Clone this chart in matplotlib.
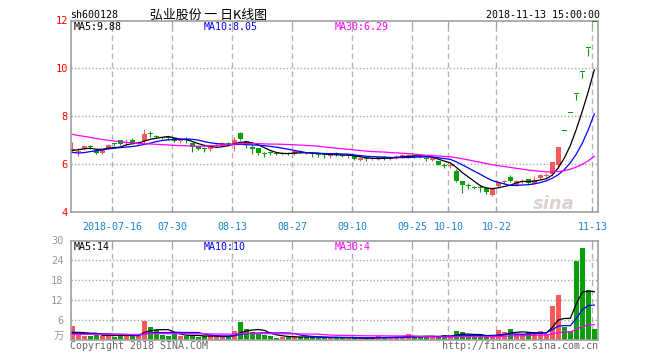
import matplotlib
matplotlib.use("Agg")
import matplotlib.pyplot as plt
import numpy as np
import pandas as pd

# daily candles, 2018-07-05 .. 2018-11-13 (88 trading days)
opens = [6.60, 6.52, 6.62, 6.74, 6.60, 6.48, 6.68, 6.88, 7.00, 6.88,
         7.02, 6.84, 6.98, 7.28, 7.20, 7.12, 7.10, 7.08, 6.96, 7.02,
         6.90, 6.76, 6.64, 6.62, 6.76, 6.78, 6.88, 6.86, 7.32, 6.98,
         6.70, 6.68, 6.44, 6.50, 6.46, 6.42, 6.46, 6.43, 6.54, 6.50,
         6.45, 6.40, 6.40, 6.36, 6.44, 6.38, 6.34, 6.38, 6.20, 6.24,
         6.22, 6.22, 6.30, 6.24, 6.30, 6.32, 6.30, 6.38, 6.34, 6.24,
         6.20, 6.12, 5.96, 5.92, 5.72, 5.30, 5.10, 5.06, 5.04, 5.02,
         4.72, 5.09, 5.25, 5.46, 5.14, 5.28, 5.38, 5.20, 5.44, 5.53,
         5.60, 5.98, 7.40, 8.14, 8.95, 9.85, 10.84, 11.92]
highs = [6.94, 6.67, 6.77, 6.82, 6.62, 6.66, 6.85, 6.90, 7.01, 7.04,
         7.08, 6.96, 7.47, 7.39, 7.22, 7.16, 7.15, 7.10, 7.08, 7.15,
         6.95, 6.78, 6.74, 6.78, 6.85, 6.92, 6.95, 7.15, 7.37, 7.00,
         6.84, 6.70, 6.52, 6.56, 6.50, 6.50, 6.50, 6.56, 6.60, 6.52,
         6.50, 6.48, 6.46, 6.46, 6.50, 6.42, 6.44, 6.40, 6.30, 6.30,
         6.30, 6.34, 6.36, 6.32, 6.38, 6.44, 6.42, 6.42, 6.40, 6.30,
         6.28, 6.14, 6.04, 6.00, 5.80, 5.32, 5.22, 5.10, 5.12, 5.04,
         5.00, 5.30, 5.36, 5.55, 5.34, 5.38, 5.40, 5.50, 5.58, 5.65,
         6.10, 6.74, 7.40, 8.14, 8.95, 9.85, 10.84, 11.92]
lows = [6.55, 6.36, 6.60, 6.62, 6.42, 6.45, 6.65, 6.75, 6.80, 6.82,
        6.85, 6.80, 6.88, 7.14, 7.10, 7.06, 7.02, 6.92, 6.90, 6.90,
        6.52, 6.58, 6.52, 6.56, 6.72, 6.76, 6.76, 6.57, 7.00, 6.70,
        6.45, 6.40, 6.32, 6.38, 6.38, 6.38, 6.40, 6.40, 6.46, 6.42,
        6.32, 6.30, 6.26, 6.28, 6.34, 6.30, 6.28, 6.18, 6.12, 6.14,
        6.18, 6.20, 6.18, 6.18, 6.24, 6.28, 6.26, 6.28, 6.28, 6.16,
        6.16, 5.96, 5.86, 5.84, 5.25, 4.82, 4.97, 4.96, 4.86, 4.76,
        4.68, 5.04, 5.18, 5.28, 5.10, 5.20, 5.18, 5.16, 5.40, 5.47,
        5.56, 5.84, 7.40, 8.14, 8.68, 9.60, 10.50, 11.92]
closes = [6.63, 6.56, 6.75, 6.72, 6.48, 6.63, 6.80, 6.85, 6.86, 6.92,
          6.88, 6.92, 7.26, 7.25, 7.12, 7.10, 7.08, 6.96, 7.00, 7.00,
          6.74, 6.62, 6.62, 6.76, 6.80, 6.87, 6.86, 7.02, 7.06, 6.86,
          6.66, 6.48, 6.42, 6.48, 6.44, 6.46, 6.44, 6.54, 6.52, 6.46,
          6.43, 6.38, 6.38, 6.40, 6.42, 6.36, 6.37, 6.22, 6.22, 6.22,
          6.24, 6.30, 6.28, 6.26, 6.32, 6.40, 6.38, 6.36, 6.32, 6.22,
          6.22, 5.98, 5.94, 5.94, 5.30, 5.12, 5.08, 5.02, 5.02, 4.84,
          4.97, 5.27, 5.28, 5.30, 5.30, 5.30, 5.22, 5.36, 5.55, 5.56,
          6.08, 6.73, 7.40, 8.14, 8.95, 9.85, 10.84, 11.92]
# volume, 万手
volumes = [4.4, 1.8, 1.3, 1.3, 1.8, 1.4, 1.6, 1.1, 1.6, 1.6,
           1.4, 1.3, 5.9, 4.1, 3.1, 1.6, 1.3, 2.1, 1.3, 1.4,
           1.4, 1.1, 1.3, 1.3, 1.0, 1.0, 1.1, 2.8, 5.5, 3.4,
           2.6, 1.9, 1.6, 1.4, 0.8, 1.1, 0.9, 1.1, 1.1, 0.9,
           0.9, 0.8, 0.8, 0.8, 0.9, 0.7, 0.8, 0.6, 0.6, 0.6,
           0.8, 1.3, 0.9, 0.8, 1.0, 1.0, 1.9, 1.0, 1.0, 1.3,
           1.0, 1.4, 1.6, 0.9, 2.8, 2.5, 1.6, 0.9, 0.9, 0.9,
           1.1, 3.1, 2.5, 3.3, 1.9, 1.9, 2.4, 1.9, 2.8, 2.0,
           10.3, 13.6, 4.1, 2.9, 23.9, 27.8, 15.1, 3.4]

# sessions before the window (estimated from where the MA lines start)
prior_closes = [7.95, 7.90, 7.98, 7.85, 7.80, 7.88, 7.75, 7.70, 7.72, 7.62,
                7.58, 7.65, 7.55, 7.50, 7.52, 7.45, 7.50, 7.30, 7.20, 7.10,
                6.85, 6.55, 6.30, 6.15, 6.25, 6.40, 6.55, 6.62, 6.70]
prior_volumes = [1.7, 1.6, 1.8, 1.5, 1.7, 1.6, 1.7, 1.6, 1.8, 1.6,
                 1.7, 1.5, 1.6, 1.7, 1.6, 1.8, 1.6, 1.7, 1.6, 1.7,
                 1.8, 1.9, 1.7, 1.8, 1.8, 1.9, 1.8, 2.0, 1.9]

tick_idx = [7, 17, 27, 37, 47, 57, 63, 71, 87]
tick_labels = ["2018-07-16", "07-30", "08-13", "08-27", "09-10",
               "09-25", "10-10", "10-22", "11-13"]

W, H = 660, 360
RED = "#f45a5a"
GREEN = "#0b9e0b"
GRID = "#b4b4b4"
BORDER = "#a0a0a0"
MONO = "DejaVu Sans Mono"

n = len(closes)
x = np.arange(n)
o = np.array(opens)
c = np.array(closes)
colors = [RED if c[i] > o[i] else GREEN for i in range(n)]

close_all = pd.Series(prior_closes + closes)
vol_all = pd.Series(prior_volumes + volumes)
k = len(prior_closes)
ma = {p: close_all.rolling(p).mean().values[k:] for p in (5, 10, 30)}
vma = {p: vol_all.rolling(p).mean().values[k:] for p in (5, 10, 30)}
ma_colors = {5: "black", 10: "#0000ff", 30: "#ff00ff"}

grid_x = [t - 1 / 3 for t in tick_idx]


def px(xp, yp):
    return xp / W, 1 - yp / H


fig = plt.figure(figsize=(W / 100, H / 100), dpi=100)
L, R = 70.5, 598.3
ax = fig.add_axes([L / W, 1 - 212.3 / H, (R - L) / W, (212.3 - 20.5) / H])
axv = fig.add_axes([L / W, 1 - 340.3 / H, (R - L) / W, (340.3 - 240.5) / H])

for a in (ax, axv):
    a.set_xlim((L - 72.3) / 6, (R - 72.3) / 6)
    for s in a.spines.values():
        s.set_color(BORDER)
        s.set_linewidth(1.2)
    for g in grid_x:
        a.axvline(g, color=GRID, ls=(0, (4, 2.5)), lw=1, zorder=0)
    a.set_xticks(grid_x)
    a.tick_params(axis="x", direction="in", length=4, color=BORDER,
                  top=True, bottom=True)
    a.tick_params(axis="y", length=0)

# price panel
ax.set_ylim(4, 12)
for yv in (6, 8, 10):
    ax.axhline(yv, color="#a8a8a8", ls=(0, (1, 1.5)), lw=1, zorder=0)
ax.vlines(x, lows, highs, colors=colors, lw=0.8, zorder=2)
body_lo = np.minimum(o, c)
body_h = np.maximum(np.abs(c - o), 0.045)
ax.bar(x, body_h, bottom=body_lo, width=0.8, color=colors, lw=0, zorder=3)
for p in (5, 10, 30):
    ax.plot(x, ma[p], color=ma_colors[p], lw=0.9, zorder=4)
ax.set_yticks([4, 6, 8, 10, 12])
ax.set_yticklabels(["4", "6", "8", "10", "12"], color="red",
                   fontsize=7.5, family=MONO)
ax.tick_params(axis="y", pad=2)
ax.set_xticklabels(tick_labels, color="#1a84d0", fontsize=7.2, family=MONO)
ax.tick_params(axis="x", pad=7, labelsize=7.2)
ax.text(0.915, 0.045, "sina", transform=ax.transAxes, fontsize=13,
        color="#dcd0d0", style="italic", weight="bold", ha="center",
        va="center", zorder=1)

# volume panel
axv.set_ylim(0, 30)
for yv in (6, 12, 18, 24):
    axv.axhline(yv, color="#a8a8a8", ls=(0, (1, 1.5)), lw=1, zorder=0)
axv.bar(x, volumes, width=0.8, color=colors, lw=0, zorder=2)
for p in (5, 10, 30):
    axv.plot(x, vma[p], color=ma_colors[p], lw=0.9, zorder=3)
axv.set_yticks([6, 12, 18, 24, 30])
axv.set_yticklabels(["6", "12", "18", "24", "30"], color="#999999",
                    fontsize=7.5, family=MONO)
axv.tick_params(axis="y", pad=5)
axv.set_xticklabels([])

# header and footer texts
fig.text(*px(70, 15), "sh600128", fontsize=7.2, family=MONO, va="center")
fig.text(*px(150, 15), "弘业股份 一 日K线图", fontsize=9.3,
         family=["Noto Sans CJK SC", "DejaVu Sans"], va="center")
fig.text(*px(600, 15), "2018-11-13 15:00:00", fontsize=7.2, family=MONO,
         va="center", ha="right")
fig.text(*px(74, 27), "MA5:9.88", fontsize=7.2, family=MONO, va="center")
fig.text(*px(204, 27), "MA10:8.05", fontsize=7.2, family=MONO, va="center",
         color="#0000ff")
fig.text(*px(335, 27), "MA30:6.29", fontsize=7.2, family=MONO, va="center",
         color="#ff00ff")
fig.text(*px(74, 247), "MA5:14", fontsize=7.2, family=MONO, va="center")
fig.text(*px(204, 247), "MA10:10", fontsize=7.2, family=MONO, va="center",
         color="#0000ff")
fig.text(*px(335, 247), "MA30:4", fontsize=7.2, family=MONO, va="center",
         color="#ff00ff")
fig.text(*px(64, 337), "万", fontsize=7.5, color="#999999", ha="right",
         va="center", family=["Noto Sans CJK SC", "DejaVu Sans"])
fig.text(*px(70, 346), "Copyright 2018 SINA.COM", fontsize=7.2,
         family=MONO, va="center", color="#666666")
fig.text(*px(598, 346), "http://finance.sina.com.cn", fontsize=7.2,
         family=MONO, va="center", ha="right", color="#666666")

fig.savefig("out.png", dpi=100)
